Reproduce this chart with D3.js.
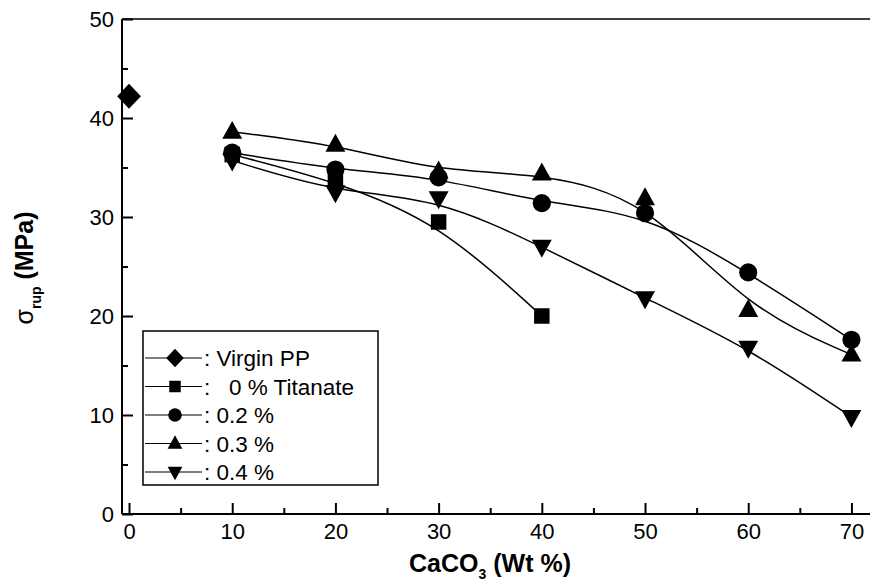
<!DOCTYPE html>
<html>
<head>
<meta charset="utf-8">
<script src="https://cdn.jsdelivr.net/npm/d3@7"></script>
<style>
body { margin: 0; background: #fff; }
svg { display: block; font-family: "Liberation Sans", Arial, sans-serif; }
</style>
</head>
<body>
<div id="chart"></div>
<script>
// data
var xVals = [10, 20, 30, 40, 50, 60, 70];
var virginX = [0];
var virginY = [42.2];
var tit0 = [36.3, 33.6, 29.5, 20.0];
var tit02 = [36.5, 34.8, 34.0, 31.4, 30.4, 24.4, 17.6];
var tit03 = [38.6, 37.3, 34.6, 34.4, 31.9, 20.6, 16.1];
var tit04 = [35.7, 32.5, 31.9, 27.0, 21.8, 16.8, 9.8];
var xTicks = [0, 10, 20, 30, 40, 50, 60, 70];
var yTicks = [0, 10, 20, 30, 40, 50];
var legendLabels = [": Virgin PP", ":   0 % Titanate", ": 0.2 %", ": 0.3 %", ": 0.4 %"];

var W = 871, H = 583;
var mLeft = 122, mRight = 870, mTop = 19, mBottom = 514;

var x = d3.scaleLinear().domain([-0.68, 71.8]).range([mLeft, mRight]);
var y = d3.scaleLinear().domain([0, 50]).range([mBottom, mTop]);

// marker shapes
var diamond = { draw: function(c, s) { var r = Math.sqrt(s) / 1.6; c.moveTo(0, -r); c.lineTo(r * 0.95, 0); c.lineTo(0, r); c.lineTo(-r * 0.95, 0); c.closePath(); } };
var square = { draw: function(c, s) { var r = Math.sqrt(s) / 2; c.rect(-r, -r, 2 * r, 2 * r); } };
var circle = { draw: function(c, s) { var r = Math.sqrt(s / Math.PI); c.moveTo(r, 0); c.arc(0, 0, r, 0, 2 * Math.PI); } };
var triUp = { draw: function(c, s) { var w = Math.sqrt(s) * 1.05; c.moveTo(0, -w * 0.55); c.lineTo(w / 2, w * 0.35); c.lineTo(-w / 2, w * 0.35); c.closePath(); } };
var triDown = { draw: function(c, s) { var w = Math.sqrt(s) * 1.05; c.moveTo(0, w * 0.55); c.lineTo(w / 2, -w * 0.35); c.lineTo(-w / 2, -w * 0.35); c.closePath(); } };

var series = [
  { xs: virginX, ys: virginY, sym: diamond, size: 400 },
  { xs: xVals.slice(0, tit0.length), ys: tit0, sym: square, size: 240 },
  { xs: xVals, ys: tit02, sym: circle, size: 260 },
  { xs: xVals, ys: tit03, sym: triUp, size: 360 },
  { xs: xVals, ys: tit04, sym: triDown, size: 360 }
];

var svg = d3.select("#chart").append("svg").attr("width", W).attr("height", H);

// top frame line
svg.append("line").attr("x1", mLeft).attr("x2", mRight).attr("y1", mTop).attr("y2", mTop)
  .attr("stroke", "#000").attr("stroke-width", 1.5);

var xAxis = d3.axisBottom(x).tickValues(xTicks).tickSize(-11).tickFormat(d3.format("d"));
var xMinor = d3.axisBottom(x).tickValues([5, 15, 25, 35, 45, 55, 65]).tickSize(-6).tickFormat("");
var yAxis = d3.axisLeft(y).tickValues(yTicks).tickSize(-11).tickFormat(d3.format("d"));
var yMinor = d3.axisLeft(y).tickValues([5, 15, 25, 35, 45]).tickSize(-6).tickFormat("");

function styleAxis(g) {
  g.attr("font-size", 22).attr("font-family", null);
  g.select(".domain").attr("stroke-width", 2);
  g.selectAll(".tick line").attr("stroke-width", 2);
  g.selectAll("text").attr("fill", "#000");
}

svg.append("g").attr("transform", "translate(0," + mBottom + ")").call(xAxis).call(styleAxis)
  .call(function(g) {
    g.select(".domain").attr("d", "M" + mLeft + ",0H" + mRight);
    g.selectAll("text").attr("y", 8).attr("dy", "0.75em");
  });
svg.append("g").attr("transform", "translate(0," + mBottom + ")").call(xMinor).call(styleAxis)
  .call(function(g) { g.select(".domain").remove(); });
svg.append("g").attr("transform", "translate(" + mLeft + ",0)").call(yAxis).call(styleAxis)
  .call(function(g) {
    g.select(".domain").attr("d", "M0," + mBottom + "V" + mTop);
    g.selectAll("text").attr("x", -8).attr("dy", "0.35em");
  });
svg.append("g").attr("transform", "translate(" + mLeft + ",0)").call(yMinor).call(styleAxis)
  .call(function(g) { g.select(".domain").remove(); });

// smoothed lines (B-spline like the original plot)
var line = d3.line().x(function(d) { return x(d[0]); }).y(function(d) { return y(d[1]); })
  .curve(d3.curveBasis);

series.forEach(function(s) {
  var pts = s.xs.map(function(v, i) { return [v, s.ys[i]]; });
  if (pts.length > 1) {
    svg.append("path").datum(pts).attr("d", line)
      .attr("fill", "none").attr("stroke", "#000").attr("stroke-width", 1.5);
  }
});

series.forEach(function(s) {
  var pts = s.xs.map(function(v, i) { return [v, s.ys[i]]; });
  svg.selectAll(null).data(pts).enter().append("path")
    .attr("d", d3.symbol().type(s.sym).size(s.size))
    .attr("transform", function(d) { return "translate(" + x(d[0]) + "," + y(d[1]) + ")"; })
    .attr("fill", "#000");
});

// legend
var lg = svg.append("g");
lg.append("rect").attr("x", 143).attr("y", 331).attr("width", 235).attr("height", 154)
  .attr("fill", "#fff").attr("stroke", "#000").attr("stroke-width", 1.5);
series.forEach(function(s, i) {
  var ly = 358 + i * 28.5;
  lg.append("line").attr("x1", 145).attr("x2", 202).attr("y1", ly).attr("y2", ly)
    .attr("stroke", "#000").attr("stroke-width", 1.2);
  lg.append("path").attr("d", d3.symbol().type(s.sym).size(s.size * 0.55))
    .attr("transform", "translate(175," + ly + ")").attr("fill", "#000");
  lg.append("text").attr("x", 204).attr("y", ly).attr("dy", "0.36em")
    .attr("font-size", 22.5).attr("xml:space", "preserve").style("white-space", "pre").text(legendLabels[i]);
});

// axis titles
var xt = svg.append("text").attr("x", 490).attr("y", 572).attr("text-anchor", "middle")
  .attr("font-size", 25).attr("font-weight", "bold");
xt.append("tspan").text("CaCO");
xt.append("tspan").attr("font-size", 14).attr("dy", 7).text("3");
xt.append("tspan").attr("dy", -7).text(" (Wt %)");

var yt = svg.append("text").attr("transform", "translate(33,268) rotate(-90)").attr("text-anchor", "middle")
  .attr("font-size", 25).attr("font-weight", "bold");
yt.append("tspan").attr("font-weight", "normal").text("σ");
yt.append("tspan").attr("font-size", 14).attr("dy", 8).text("rup");
yt.append("tspan").attr("dy", -8).text(" (MPa)");
</script>
</body>
</html>
